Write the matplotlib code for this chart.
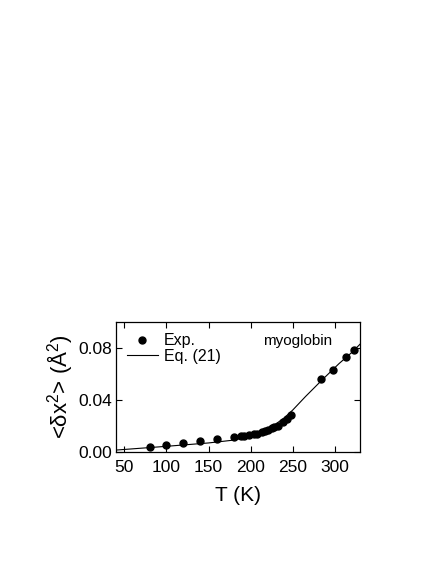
import numpy as np
import matplotlib
matplotlib.use('Agg')
import matplotlib.pyplot as plt

plt.rcParams['font.family'] = ['Liberation Sans', 'DejaVu Sans']
plt.rcParams['mathtext.fontset'] = 'custom'
plt.rcParams['mathtext.rm'] = 'Liberation Sans'
plt.rcParams['mathtext.it'] = 'Liberation Sans'

# experimental points (T in K, <dx^2> in A^2)
exp_T = [80, 100, 120, 140, 160, 180, 188, 192, 198, 204, 207, 214, 217, 221,
         225, 228, 232, 238, 243, 248, 284, 298, 313, 323]
exp_msd = [0.0040, 0.0052, 0.0067, 0.0082, 0.0100, 0.0110, 0.0118, 0.0124,
           0.0128, 0.0140, 0.0140, 0.0156, 0.0161, 0.0171, 0.0183, 0.0191,
           0.0201, 0.0228, 0.0256, 0.0287, 0.0562, 0.0633, 0.0734, 0.0782]

# Eq. (21) curve
eq_T = [40, 100, 150, 180, 200, 215, 230, 240, 250, 265, 285, 305, 320, 330]
eq_msd = [0.0013, 0.0042, 0.0068, 0.0090, 0.0118, 0.0155, 0.0215, 0.0262,
          0.0322, 0.0425, 0.0555, 0.0680, 0.0765, 0.0830]

fig = plt.figure(figsize=(4.36, 5.64), dpi=100)
ax = fig.add_axes([0.266, 0.199, 0.56, 0.230])

ax.plot(eq_T, eq_msd, color='black', lw=0.8, label='Eq. (21)')
ax.plot(exp_T, exp_msd, 'o', color='black', ms=5, label='Exp.')

ax.set_xlim(40, 330)
ax.set_ylim(0, 0.1)
ax.set_xticks([50, 100, 150, 200, 250, 300])
ax.set_yticks([0.0, 0.04, 0.08])
ax.set_yticklabels(['0.00', '0.04', '0.08'])
ax.tick_params(direction='in', top=True, right=True, length=4, width=0.8,
               labelsize=12.5, pad=3)
ax.tick_params(axis='x', pad=6)
for s in ax.spines.values():
    s.set_linewidth(0.9)

ax.set_xlabel('T (K)', fontsize=15, labelpad=8)
ax.set_ylabel(r'<$\delta$x$^2$> (Å$^2$)', fontsize=16, labelpad=2)

handles, labels = ax.get_legend_handles_labels()
ax.legend(handles[::-1], labels[::-1], loc='upper left', frameon=False,
          fontsize=11.5, handlelength=1.9, handletextpad=0.4,
          borderaxespad=0.4, borderpad=0.3, labelspacing=0.05)
ax.text(0.885, 0.856, 'myoglobin', transform=ax.transAxes, ha='right',
        va='center', fontsize=11)

fig.savefig('out.png', dpi=100)
